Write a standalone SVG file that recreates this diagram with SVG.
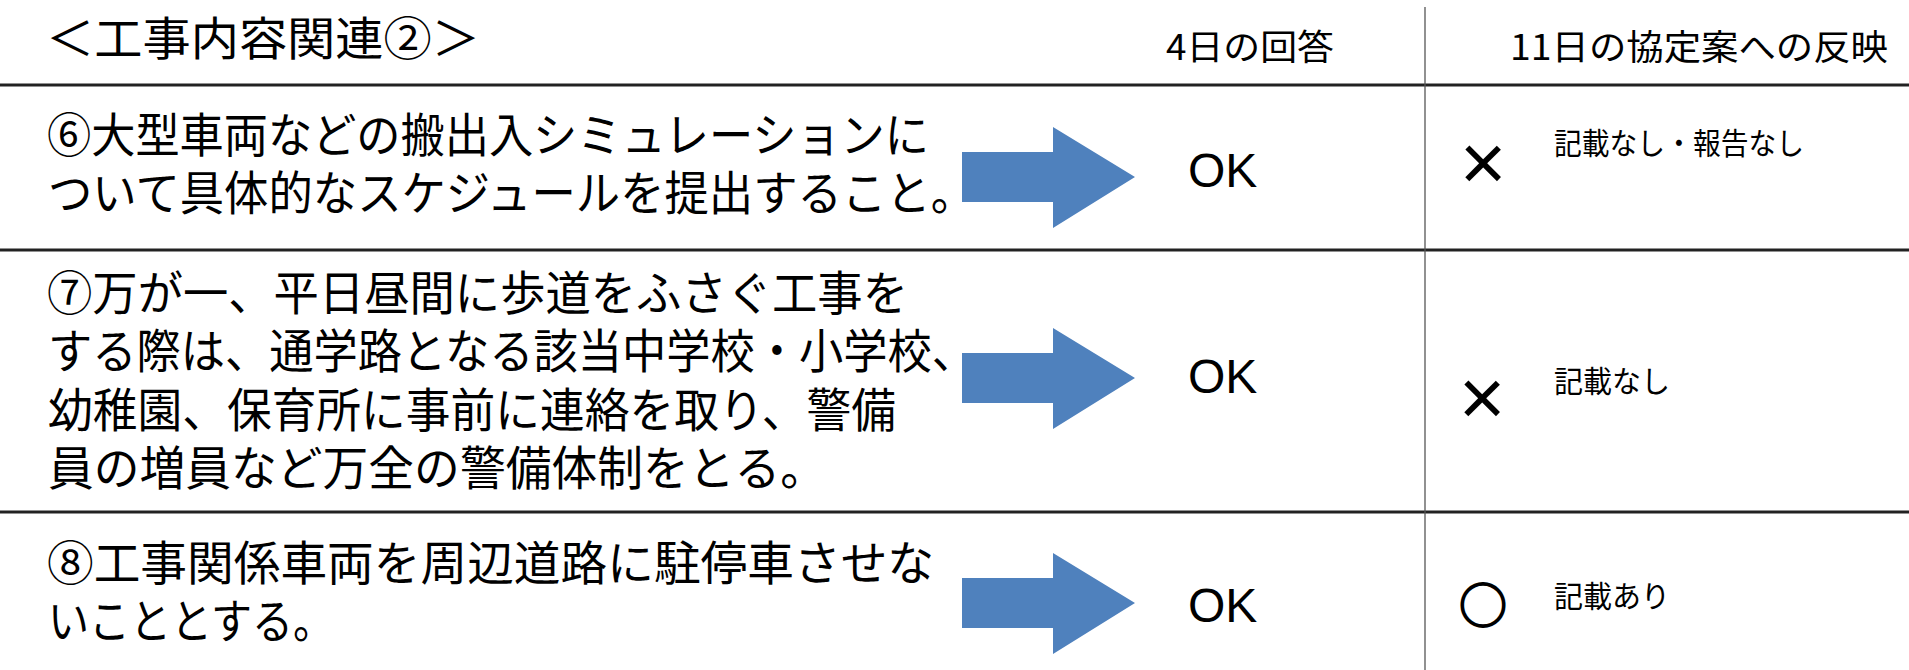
<svg xmlns="http://www.w3.org/2000/svg" xmlns:xlink="http://www.w3.org/1999/xlink" width="1909" height="670" viewBox="0 0 1909 670">
<style>
.jp{font-family:"Noto Sans CJK JP","Noto Sans",sans-serif;fill:#000}
.body{font-size:47px}
.title{font-size:46px}
.head{font-size:35px}
.note{font-size:30px}
.ok{font-family:"Liberation Sans",Arial,sans-serif;font-size:48px;fill:#000}
.mark{font-family:"Liberation Sans",Arial,sans-serif;font-size:80px;fill:#000}
.rule{stroke:#222;stroke-width:3}
.vrule{stroke:#555;stroke-width:1.3}
.arrow{fill:#4F81BD}
</style>
<defs>
<path id="arr" d="M0,-25 H91 V-50 L173,0 L91,51 V25 H0 Z"/>
</defs>
<rect width="1909" height="670" fill="#fff"/>
<g id="grid">
<line class="rule" x1="0" y1="85" x2="1909" y2="85"/>
<line class="rule" x1="0" y1="250" x2="1909" y2="250"/>
<line class="rule" x1="0" y1="512" x2="1909" y2="512"/>
<line class="vrule" x1="1425" y1="7" x2="1425" y2="670"/>
</g>
<g id="header">
<text class="jp title" x="46" y="55" textLength="434" lengthAdjust="spacingAndGlyphs">＜工事内容関連②＞</text>
<text class="jp head" x="1166" y="60" textLength="168" lengthAdjust="spacingAndGlyphs">4日の回答</text>
<text class="jp head" x="1510" y="60" textLength="378" lengthAdjust="spacingAndGlyphs">11日の協定案への反映</text>
</g>
<g id="connectors">
<use xlink:href="#arr" class="arrow" transform="translate(962,177)"/>
<use xlink:href="#arr" class="arrow" transform="translate(962,378)"/>
<use xlink:href="#arr" class="arrow" transform="translate(962,603)"/>
</g>
<g id="row6">
<text class="jp body" x="47" y="152" textLength="882" lengthAdjust="spacingAndGlyphs">⑥大型車両などの搬出入シミュレーションに</text>
<text class="jp body" x="48" y="210" textLength="927" lengthAdjust="spacingAndGlyphs">ついて具体的なスケジュールを提出すること。</text>
<text class="ok" x="1188" y="187">OK</text>
<text class="mark" x="1483" y="190" text-anchor="middle">×</text>
<text class="jp note" x="1554" y="154" textLength="250" lengthAdjust="spacingAndGlyphs">記載なし・報告なし</text>
</g>
<g id="row7">
<text class="jp body" x="47" y="310" textLength="861" lengthAdjust="spacingAndGlyphs">⑦万が一、平日昼間に歩道をふさぐ工事を</text>
<text class="jp body" x="48" y="368" textLength="928" lengthAdjust="spacingAndGlyphs">する際は、通学路となる該当中学校・小学校、</text>
<text class="jp body" x="48" y="427" textLength="848" lengthAdjust="spacingAndGlyphs">幼稚園、保育所に事前に連絡を取り、警備</text>
<text class="jp body" x="48" y="485" textLength="778" lengthAdjust="spacingAndGlyphs">員の増員など万全の警備体制をとる。</text>
<text class="ok" x="1188" y="393">OK</text>
<text class="mark" x="1482" y="425" text-anchor="middle">×</text>
<text class="jp note" x="1554" y="392" textLength="116" lengthAdjust="spacingAndGlyphs">記載なし</text>
</g>
<g id="row8">
<text class="jp body" x="47" y="580" textLength="887" lengthAdjust="spacingAndGlyphs">⑧工事関係車両を周辺道路に駐停車させな</text>
<text class="jp body" x="48" y="638" textLength="286" lengthAdjust="spacingAndGlyphs">いこととする。</text>
<text class="ok" x="1188" y="622">OK</text>
<text class="jp" x="1483" y="623" text-anchor="middle" font-size="48" stroke="#000" stroke-width="1.8">○</text>
<text class="jp note" x="1554" y="607" textLength="116" lengthAdjust="spacingAndGlyphs">記載あり</text>
</g>
</svg>
